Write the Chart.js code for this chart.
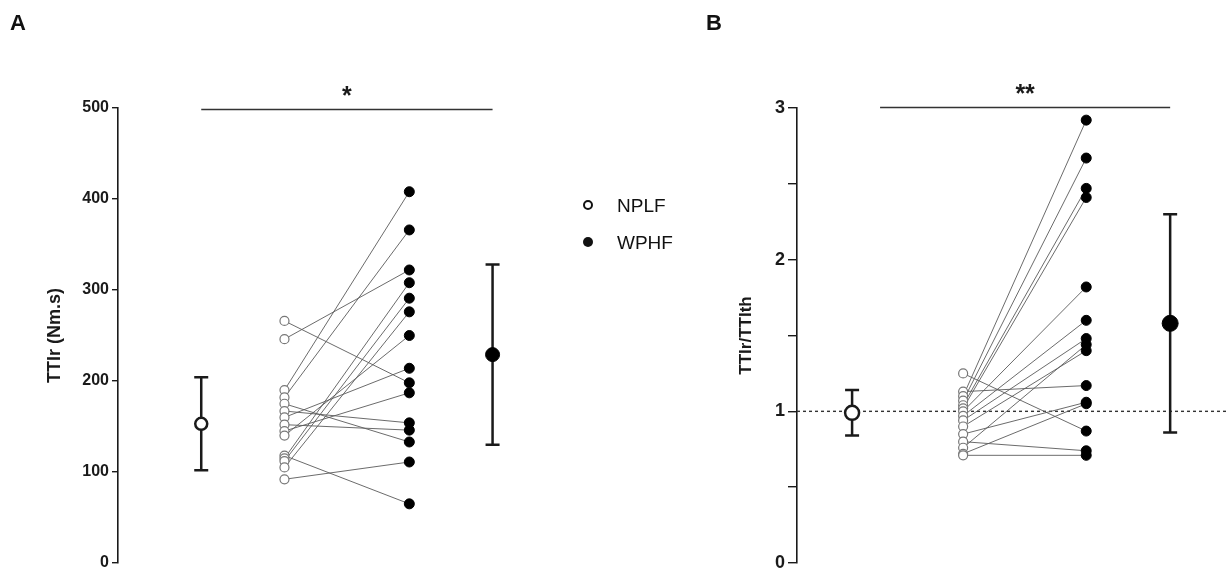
<!DOCTYPE html>
<html>
<head>
<meta charset="utf-8">
<script src="https://cdn.jsdelivr.net/npm/chart.js@4.4.0/dist/chart.umd.min.js"></script>
<style>
  body { margin: 0; background: #fff; font-family: "Liberation Sans", Arial, sans-serif; }
  #wrap { position: relative; width: 1227px; height: 577px; overflow: hidden; }
  #chartA { position: absolute; left: 0; top: 0; }
  #chartB { position: absolute; left: 700px; top: 0; }
  .panel { position: absolute; font-weight: bold; font-size: 22px; color: #111; line-height: 1; }
  .legend { position: absolute; left: 583px; font-size: 19px; color: #111; line-height: 1; }
  .legend span.dot { display: inline-block; width: 10px; height: 10px; border-radius: 50%;
    box-sizing: border-box; vertical-align: middle; margin-right: 24px; position: relative; top: -2px; }
</style>
</head>
<body>
<div id="wrap">
  <canvas id="chartA" width="700" height="577"></canvas>
  <canvas id="chartB" width="527" height="577"></canvas>
  <div class="panel" style="left:10px;top:12px;">A</div>
  <div class="panel" style="left:706px;top:12px;">B</div>
  <div class="legend" style="top:196px;"><span class="dot" style="border:2px solid #111;background:#fff;"></span>NPLF</div>
  <div class="legend" style="top:233px;"><span class="dot" style="background:#111;"></span>WPHF</div>
</div>
<script>
// groups and values
const groups = ['NPLF', 'WPHF'];

// panel A: TTIr (Nm.s), paired by subject
const ttirNPLF = [266, 246, 190, 182, 175, 167, 160, 152, 145, 140, 118, 115, 112, 105, 92];
const ttirWPHF = [198, 322, 408, 366, 133, 154, 214, 146, 187, 250, 65, 308, 291, 276, 111];
const ttirMean = [153, 229];
const ttirSD = [51, 99];
const ttirTicks = [0, 100, 200, 300, 400, 500];

// panel B: TTIr/TTIth, paired by subject
const ratioNPLF = [1.25, 1.13, 1.10, 1.07, 1.04, 1.02, 1.00, 0.97, 0.94, 0.90, 0.85, 0.80, 0.76, 0.72, 0.71];
const ratioWPHF = [0.87, 1.17, 2.92, 2.67, 2.47, 2.41, 1.82, 1.60, 1.48, 1.40, 1.06, 0.74, 1.44, 1.05, 0.71];
const ratioMean = [0.99, 1.58];
const ratioSD = [0.15, 0.72];
const ratioTicks = [0, 1, 2, 3];

// x slots on each panel (layout only)
const slotsA = { meanN: 1, pairN: 2, pairW: 3.5, meanW: 4.5, max: 6.89, sigFrom: 1, sigTo: 4.5 };
const slotsB = { meanN: 1.28, pairN: 3.86, pairW: 6.72, meanW: 8.67, max: 9.77, sigFrom: 1.93, sigTo: 8.67 };

const FONT = '"Liberation Sans", Arial, sans-serif';
const INK = '#1a1a1a';

// error bars, significance bar and reference line
const decorations = {
  id: 'decorations',
  beforeDatasetsDraw(chart, args, opts) {
    const ctx = chart.ctx, xs = chart.scales.x, ys = chart.scales.y;
    ctx.save();
    if (opts.refLine !== undefined) {
      const py = ys.getPixelForValue(opts.refLine);
      ctx.strokeStyle = '#333';
      ctx.lineWidth = 1.4;
      ctx.setLineDash([3, 3]);
      ctx.beginPath();
      ctx.moveTo(chart.chartArea.left, py);
      ctx.lineTo(chart.width, py);
      ctx.stroke();
      ctx.setLineDash([]);
    }
    ctx.strokeStyle = INK;
    ctx.lineWidth = 2.5;
    opts.bars.forEach(b => {
      const px = xs.getPixelForValue(b.x);
      const top = ys.getPixelForValue(b.mean + b.sd);
      const bot = ys.getPixelForValue(b.mean - b.sd);
      ctx.beginPath();
      ctx.moveTo(px, top); ctx.lineTo(px, bot);
      ctx.moveTo(px - 7, top); ctx.lineTo(px + 7, top);
      ctx.moveTo(px - 7, bot); ctx.lineTo(px + 7, bot);
      ctx.stroke();
    });
    ctx.restore();
  },
  afterDraw(chart, args, opts) {
    const ctx = chart.ctx, xs = chart.scales.x;
    const x1 = xs.getPixelForValue(opts.sig.from), x2 = xs.getPixelForValue(opts.sig.to);
    const py = opts.sig.y;
    ctx.save();
    ctx.strokeStyle = '#333';
    ctx.lineWidth = 1.3;
    ctx.beginPath();
    ctx.moveTo(x1, py); ctx.lineTo(x2, py);
    ctx.stroke();
    ctx.fillStyle = INK;
    ctx.font = 'bold 25px ' + FONT;
    ctx.textAlign = 'center';
    ctx.textBaseline = 'middle';
    ctx.fillText(opts.sig.label, (x1 + x2) / 2, py - 12);
    ctx.restore();
  }
};

function buildChart(id, cfg) {
  const s = cfg.slots;
  const lines = cfg.left.map((v, i) => ({
    type: 'line',
    data: [{ x: s.pairN, y: v }, { x: s.pairW, y: cfg.right[i] }],
    borderColor: '#5a5a5a', borderWidth: 0.9, pointRadius: 0, order: 3, clip: false
  }));
  const datasets = [
    { label: groups[0], data: cfg.left.map(v => ({ x: s.pairN, y: v })),
      pointRadius: 4.5, pointBackgroundColor: '#fff', pointBorderColor: '#777', pointBorderWidth: 1.2,
      order: 1, clip: false },
    { label: groups[1], data: cfg.right.map(v => ({ x: s.pairW, y: v })),
      pointRadius: 5, pointBackgroundColor: '#000', pointBorderColor: '#000', pointBorderWidth: 1,
      order: 1, clip: false },
    { label: groups[0] + ' mean', data: [{ x: s.meanN, y: cfg.mean[0] }],
      pointRadius: cfg.meanR[0], pointBackgroundColor: '#fff', pointBorderColor: INK, pointBorderWidth: 2.5,
      order: 0, clip: false },
    { label: groups[1] + ' mean', data: [{ x: s.meanW, y: cfg.mean[1] }],
      pointRadius: cfg.meanR[1], pointBackgroundColor: '#000', pointBorderColor: '#000', pointBorderWidth: 1,
      order: 0, clip: false }
  ].concat(lines);

  return new Chart(document.getElementById(id), {
    type: 'scatter',
    data: { datasets: datasets },
    options: {
      responsive: false,
      animation: false,
      events: [],
      layout: { padding: { left: cfg.padLeft, top: 108, bottom: 14, right: 0 } },
      scales: {
        x: { type: 'linear', display: false, min: 0, max: s.max },
        y: {
          min: cfg.ticks[0], max: cfg.ticks[cfg.ticks.length - 1],
          afterFit: scale => { scale.width = cfg.axisWidth; },
          border: { display: true, color: INK, width: 1.6 },
          grid: { drawOnChartArea: false, drawTicks: true, tickLength: cfg.tickLen, color: INK, lineWidth: 1.4 },
          ticks: {
            stepSize: cfg.step, padding: 3, color: INK,
            font: { family: FONT, size: cfg.tickFont, weight: 'bold' },
            callback: v => cfg.ticks.includes(v) ? String(v) : ''
          },
          title: {
            display: true, text: cfg.title, color: INK, padding: { top: 4, bottom: 0 },
            font: { family: FONT, size: cfg.titleFont, weight: 'bold' }
          }
        }
      },
      plugins: {
        legend: { display: false },
        tooltip: { enabled: false },
        decorations: {
          refLine: cfg.refLine,
          bars: [
            { x: s.meanN, mean: cfg.mean[0], sd: cfg.sd[0] },
            { x: s.meanW, mean: cfg.mean[1], sd: cfg.sd[1] }
          ],
          sig: { from: s.sigFrom, to: s.sigTo, y: cfg.sigY, label: cfg.sigLabel }
        }
      }
    },
    plugins: [decorations]
  });
}

buildChart('chartA', {
  slots: slotsA, left: ttirNPLF, right: ttirWPHF, mean: ttirMean, sd: ttirSD,
  ticks: ttirTicks, step: 100, title: 'TTIr (Nm.s)', titleFont: 18, padLeft: 40, axisWidth: 78,
  tickLen: 6, tickFont: 16, meanR: [6, 7], sigY: 109.5, sigLabel: '*'
});

buildChart('chartB', {
  slots: slotsB, left: ratioNPLF, right: ratioWPHF, mean: ratioMean, sd: ratioSD,
  ticks: ratioTicks, step: 0.5, title: 'TTIr/TTIth', titleFont: 17, padLeft: 32, axisWidth: 65,
  tickLen: 9, tickFont: 18, meanR: [7, 8], refLine: 1, sigY: 107.5, sigLabel: '**'
});
</script>
</body>
</html>
